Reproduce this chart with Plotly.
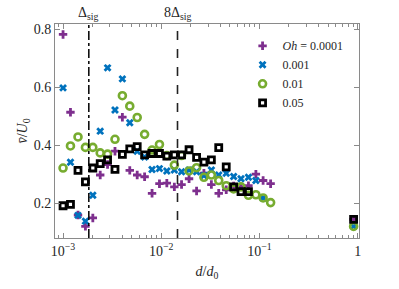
import numpy as np
import plotly.graph_objects as go

# d/d0 positions (shared grid)
d_ratio = [0.00100, 0.00119, 0.00142, 0.00169, 0.00201, 0.00239, 0.00284, 0.00338,
           0.00402, 0.00478, 0.00569, 0.00677, 0.00806, 0.00959, 0.0114, 0.0136,
           0.0161, 0.0192, 0.0229, 0.0272, 0.0324, 0.0385, 0.0459, 0.0546,
           0.0649, 0.0773, 0.0920, 0.109, 0.130, 0.91]

N = None
oh_0001 = [0.782, 0.514, 0.160, 0.121, 0.150, 0.298, 0.334, 0.380, 0.497, 0.314,
           0.298, 0.292, 0.235, 0.268, 0.270, 0.257, 0.265, 0.285, 0.243, 0.304,
           0.265, 0.235, 0.247, 0.260, 0.257, 0.261, 0.301, 0.279, 0.268, 0.145]
oh_001 = [0.598, 0.342, 0.159, 0.139, 0.228, 0.449, 0.667, 0.522, 0.629, 0.478,
          0.380, 0.360, 0.317, 0.320, 0.312, 0.315, 0.309, 0.315, 0.309, 0.296,
          0.315, 0.298, 0.304, 0.293, 0.285, 0.290, 0.279, 0.219, N, 0.121]
oh_01 = [0.322, 0.398, 0.429, 0.393, 0.393, 0.374, 0.370, 0.421, 0.571, 0.535,
         0.496, 0.438, 0.384, 0.403, 0.365, 0.332, 0.365, 0.312, 0.323, 0.290,
         0.298, 0.279, 0.261, 0.250, 0.257, 0.228, 0.230, 0.219, 0.203, 0.121]
oh_05 = [0.192, 0.197, 0.314, 0.274, 0.322, 0.337, 0.350, 0.317, 0.369, 0.388,
         0.396, 0.367, 0.372, 0.372, 0.363, 0.367, 0.367, 0.385, 0.359, 0.342,
         0.350, 0.392, 0.326, 0.257, 0.241, 0.241, N, N, N, 0.145]

DELTA_SIG = 0.00183
x_tickvals = [0.001, 0.01, 0.1, 1]
x_ticktext = ["10<sup>\u22123</sup>", "10<sup>\u22122</sup>", "10<sup>\u22121</sup>", "1"]
y_tickvals = [0.2, 0.4, 0.6, 0.8]

FONT = "Liberation Serif"
AX_COLOR = "#8a8a8a"
TXT = "#262626"

fig = go.Figure()

series = [
    ("<i>Oh</i> = 0.0001", oh_0001, dict(symbol="cross", size=7, color="#7E2F8E", line=dict(width=0))),
    ("0.001", oh_001, dict(symbol="x", size=7, color="#0072BD", line=dict(width=0))),
    ("0.01", oh_01, dict(symbol="circle-open", size=7, color="#77AC30", line=dict(width=2.6))),
    ("0.05", oh_05, dict(symbol="square-open", size=6, color="#000000", line=dict(width=2.8))),
]
for name, ys, mk in series:
    fig.add_trace(go.Scatter(x=d_ratio, y=ys, mode="markers", name=name, marker=mk,
                             cliponaxis=False))

fig.add_vline(x=DELTA_SIG, line=dict(color="black", width=1.5, dash="dashdot"))
fig.add_vline(x=8 * DELTA_SIG, line=dict(color="#222222", width=1.6, dash="dash"))

fig.add_annotation(x=np.log10(DELTA_SIG), y=1, xref="x", yref="paper", yanchor="bottom",
                   text="\u0394<sub>sig</sub>", showarrow=False, yshift=0,
                   font=dict(family=FONT, size=14, color=TXT))
fig.add_annotation(x=np.log10(8 * DELTA_SIG), y=1, xref="x", yref="paper", yanchor="bottom",
                   text="8\u0394<sub>sig</sub>", showarrow=False, yshift=0,
                   font=dict(family=FONT, size=14, color=TXT))

fig.update_layout(
    width=399, height=289,
    margin=dict(l=55, r=40, t=24, b=40),
    paper_bgcolor="white", plot_bgcolor="white",
    font=dict(family=FONT, size=14, color=TXT),
    showlegend=True,
    legend=dict(x=0.617, y=0.966, xanchor="left", yanchor="top", bgcolor="rgba(0,0,0,0)",
                font=dict(family=FONT, size=12, color=TXT), itemwidth=30,
                tracegroupgap=0),
    xaxis=dict(type="log", range=[-3.082, 0.014], tickvals=x_tickvals, ticktext=x_ticktext,
               ticks="inside", ticklen=5, tickcolor=AX_COLOR, showline=True, linecolor=AX_COLOR,
               linewidth=1, mirror="ticks", showgrid=False, zeroline=False,
               minor=dict(ticks="inside", ticklen=3, tickcolor=AX_COLOR, dtick="D1", showgrid=False),
               title=dict(text="<i>d</i>/<i>d</i><sub>0</sub>", standoff=8,
                          font=dict(family=FONT, size=14, color=TXT))),
    yaxis=dict(range=[0.081, 0.818], tickvals=y_tickvals, ticktext=["0.2", "0.4", "0.6", "0.8"],
               ticks="inside", ticklen=5, tickcolor=AX_COLOR, showline=True, linecolor=AX_COLOR,
               linewidth=1, mirror="ticks", showgrid=False, zeroline=False,
               title=dict(text="<i>v\u0304</i>/<i>U</i><sub>0</sub>", standoff=2,
                          font=dict(family=FONT, size=14, color=TXT))),
)

fig.write_html("out.html",
               config={"displayModeBar": False},
               post_script="document.body.style.margin='0px';document.body.style.overflow='hidden';")
